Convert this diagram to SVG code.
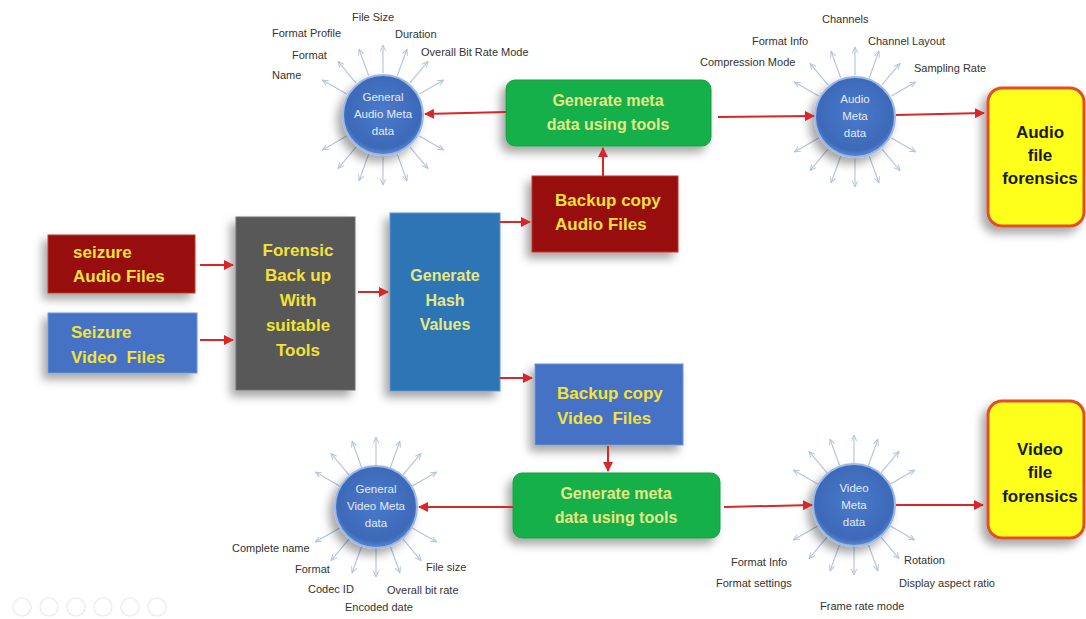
<svg xmlns="http://www.w3.org/2000/svg" xmlns:xlink="http://www.w3.org/1999/xlink" width="1086" height="619" viewBox="0 0 1086 619">
<style>
.lbl{font-family:"Liberation Sans",Arial,sans-serif;font-size:11px;fill:#333}
.bt{font-family:"Liberation Sans",Arial,sans-serif;font-size:17px;font-weight:bold;fill:#f2e23a}
.gt{font-family:"Liberation Sans",Arial,sans-serif;font-size:16px;font-weight:bold;fill:#e6e884}
.yt{font-family:"Liberation Sans",Arial,sans-serif;font-size:17px;font-weight:bold;fill:#1a1a1a}
.ct{font-family:"Liberation Sans",Arial,sans-serif;font-size:11.5px;fill:#e3ebf7}
.ray{stroke:#b3c3db;stroke-width:1.1;fill:none}
.conn{stroke:#d9262a;stroke-width:2;fill:none}
.red{fill:#980808;stroke:#c0392b;stroke-width:1}
.blue{fill:#4472c4;stroke:#6d96d8;stroke-width:1}
.green{fill:#19b04c;stroke:#12a040;stroke-width:1}
.yel{fill:#ffff1a;stroke:#e0502a;stroke-width:3}
.icon{fill:none;stroke:#eeeeee;stroke-width:1.5}
</style>
<defs>
<filter id="sh" x="-30%" y="-30%" width="160%" height="160%">
<feDropShadow dx="-5" dy="6" stdDeviation="5" flood-color="#000" flood-opacity="0.35"/>
</filter>
<radialGradient id="cg" cx="50%" cy="45%" r="55%">
<stop offset="0" stop-color="#4b7acb"/>
<stop offset="0.85" stop-color="#3c69b8"/>
<stop offset="1" stop-color="#5f8ad3"/>
</radialGradient>
<marker id="ah" viewBox="0 0 10 10" refX="9" refY="5" markerWidth="5" markerHeight="5" orient="auto" markerUnits="strokeWidth">
<path d="M0,0 L10,5 L0,10 z" fill="#d9262a"/>
</marker>
<marker id="rh" viewBox="0 0 10 10" refX="9" refY="5" markerWidth="6" markerHeight="6" orient="auto" markerUnits="strokeWidth">
<path d="M0,1 L9,5 L0,9" fill="none" stroke="#b3c3db" stroke-width="1.5"/>
</marker>
<g id="rays">
<line class="ray" x1="42" y1="0" x2="70" y2="0" marker-end="url(#rh)" transform="rotate(-30)"/>
<line class="ray" x1="42" y1="0" x2="70" y2="0" marker-end="url(#rh)" transform="rotate(-50)"/>
<line class="ray" x1="42" y1="0" x2="70" y2="0" marker-end="url(#rh)" transform="rotate(-70)"/>
<line class="ray" x1="42" y1="0" x2="70" y2="0" marker-end="url(#rh)" transform="rotate(-90)"/>
<line class="ray" x1="42" y1="0" x2="70" y2="0" marker-end="url(#rh)" transform="rotate(-110)"/>
<line class="ray" x1="42" y1="0" x2="70" y2="0" marker-end="url(#rh)" transform="rotate(-130)"/>
<line class="ray" x1="42" y1="0" x2="70" y2="0" marker-end="url(#rh)" transform="rotate(-150)"/>
<line class="ray" x1="42" y1="0" x2="70" y2="0" marker-end="url(#rh)" transform="rotate(30)"/>
<line class="ray" x1="42" y1="0" x2="70" y2="0" marker-end="url(#rh)" transform="rotate(50)"/>
<line class="ray" x1="42" y1="0" x2="70" y2="0" marker-end="url(#rh)" transform="rotate(70)"/>
<line class="ray" x1="42" y1="0" x2="70" y2="0" marker-end="url(#rh)" transform="rotate(90)"/>
<line class="ray" x1="42" y1="0" x2="70" y2="0" marker-end="url(#rh)" transform="rotate(110)"/>
<line class="ray" x1="42" y1="0" x2="70" y2="0" marker-end="url(#rh)" transform="rotate(130)"/>
<line class="ray" x1="42" y1="0" x2="70" y2="0" marker-end="url(#rh)" transform="rotate(150)"/>
</g>
</defs>
<rect width="1086" height="619" fill="#ffffff"/>

<g id="seizure-audio">
<rect class="red" x="48" y="235" width="147" height="58" filter="url(#sh)"/>
<text class="bt" x="73" y="258">seizure</text>
<text class="bt" x="73" y="282">Audio Files</text>
</g>
<g id="seizure-video">
<rect class="blue" x="48" y="313" width="149" height="60" filter="url(#sh)"/>
<text class="bt" x="71" y="338">Seizure</text>
<text class="bt" x="71" y="363" xml:space="preserve">Video  Files</text>
</g>
<g id="forensic-backup">
<rect x="236" y="217" width="119" height="173" fill="#595959" stroke="#6e6e6e" filter="url(#sh)"/>
<text class="bt" text-anchor="middle" x="298" y="256" fill="#f5f03a">Forensic</text>
<text class="bt" text-anchor="middle" x="298" y="281">Back up</text>
<text class="bt" text-anchor="middle" x="298" y="306">With</text>
<text class="bt" text-anchor="middle" x="298" y="331">suitable</text>
<text class="bt" text-anchor="middle" x="298" y="356">Tools</text>
</g>
<g id="hash">
<rect x="390" y="213" width="110" height="178" fill="#2e75b6" stroke="#5a95cf" filter="url(#sh)"/>
<text class="gt" text-anchor="middle" x="445" y="281">Generate</text>
<text class="gt" text-anchor="middle" x="445" y="306">Hash</text>
<text class="gt" text-anchor="middle" x="445" y="330">Values</text>
</g>
<g id="backup-audio">
<rect class="red" x="532" y="176" width="146" height="76" filter="url(#sh)"/>
<text class="bt" x="555" y="206">Backup copy</text>
<text class="bt" x="555" y="230">Audio Files</text>
</g>
<g id="backup-video">
<rect class="blue" x="535" y="364" width="148" height="81" filter="url(#sh)"/>
<text class="bt" x="557" y="399">Backup copy</text>
<text class="bt" x="557" y="424" xml:space="preserve">Video  Files</text>
</g>
<g id="meta-tools-audio">
<rect class="green" x="506" y="80" width="205" height="66" rx="9" filter="url(#sh)"/>
<text class="gt" text-anchor="middle" x="608" y="106">Generate meta</text>
<text class="gt" text-anchor="middle" x="608" y="130">data using tools</text>
</g>
<g id="meta-tools-video">
<rect class="green" x="513" y="473" width="207" height="65" rx="9" filter="url(#sh)"/>
<text class="gt" text-anchor="middle" x="616" y="499">Generate meta</text>
<text class="gt" text-anchor="middle" x="616" y="523">data using tools</text>
</g>
<g id="audio-forensics">
<rect class="yel" x="988" y="88" width="96" height="138" rx="14" filter="url(#sh)"/>
<text class="yt" text-anchor="middle" x="1040" y="138">Audio</text>
<text class="yt" text-anchor="middle" x="1040" y="161">file</text>
<text class="yt" text-anchor="middle" x="1040" y="184">forensics</text>
</g>
<g id="video-forensics">
<rect class="yel" x="988" y="401" width="96" height="137" rx="14" filter="url(#sh)"/>
<text class="yt" text-anchor="middle" x="1040" y="455">Video</text>
<text class="yt" text-anchor="middle" x="1040" y="478">file</text>
<text class="yt" text-anchor="middle" x="1040" y="502">forensics</text>
</g>

<g id="general-audio-meta">
<use xlink:href="#rays" transform="translate(383,115)"/>
<circle cx="383" cy="115" r="40" fill="url(#cg)" stroke="#9cb8e4" stroke-width="2" filter="url(#sh)"/>
<text class="ct" text-anchor="middle" x="383" y="101">General</text>
<text class="ct" text-anchor="middle" x="383" y="118">Audio Meta</text>
<text class="ct" text-anchor="middle" x="383" y="135">data</text>
<text class="lbl" x="352" y="21">File Size</text>
<text class="lbl" x="272" y="37">Format Profile</text>
<text class="lbl" x="395" y="38">Duration</text>
<text class="lbl" x="292" y="59">Format</text>
<text class="lbl" x="421" y="56">Overall Bit Rate Mode</text>
<text class="lbl" x="272" y="79">Name</text>
</g>
<g id="audio-meta">
<use xlink:href="#rays" transform="translate(855,117)"/>
<circle cx="855" cy="117" r="40" fill="url(#cg)" stroke="#9cb8e4" stroke-width="2" filter="url(#sh)"/>
<text class="ct" text-anchor="middle" x="855" y="103">Audio</text>
<text class="ct" text-anchor="middle" x="855" y="120">Meta</text>
<text class="ct" text-anchor="middle" x="855" y="137">data</text>
<text class="lbl" x="822" y="23">Channels</text>
<text class="lbl" x="752" y="45">Format Info</text>
<text class="lbl" x="868" y="45">Channel Layout</text>
<text class="lbl" x="700" y="66">Compression Mode</text>
<text class="lbl" x="914" y="72">Sampling Rate</text>
</g>
<g id="general-video-meta">
<use xlink:href="#rays" transform="translate(376,507)"/>
<circle cx="376" cy="507" r="41" fill="url(#cg)" stroke="#9cb8e4" stroke-width="2" filter="url(#sh)"/>
<text class="ct" text-anchor="middle" x="376" y="493">General</text>
<text class="ct" text-anchor="middle" x="376" y="510">Video Meta</text>
<text class="ct" text-anchor="middle" x="376" y="527">data</text>
<text class="lbl" x="232" y="552">Complete name</text>
<text class="lbl" x="295" y="573">Format</text>
<text class="lbl" x="426" y="571">File size</text>
<text class="lbl" x="308" y="593">Codec ID</text>
<text class="lbl" x="387" y="594">Overall bit rate</text>
<text class="lbl" x="345" y="611">Encoded date</text>
</g>
<g id="video-meta">
<use xlink:href="#rays" transform="translate(854,505)"/>
<circle cx="854" cy="505" r="41" fill="url(#cg)" stroke="#9cb8e4" stroke-width="2" filter="url(#sh)"/>
<text class="ct" text-anchor="middle" x="854" y="492">Video</text>
<text class="ct" text-anchor="middle" x="854" y="509">Meta</text>
<text class="ct" text-anchor="middle" x="854" y="526">data</text>
<text class="lbl" x="731" y="566">Format Info</text>
<text class="lbl" x="904" y="564">Rotation</text>
<text class="lbl" x="716" y="587">Format settings</text>
<text class="lbl" x="899" y="587">Display aspect ratio</text>
<text class="lbl" x="820" y="610">Frame rate mode</text>
</g>

<g id="connectors">
<line class="conn" x1="200" y1="265" x2="233" y2="265" marker-end="url(#ah)"/>
<line class="conn" x1="200" y1="340" x2="233" y2="340" marker-end="url(#ah)"/>
<line class="conn" x1="358" y1="292" x2="388" y2="292" marker-end="url(#ah)"/>
<line class="conn" x1="500" y1="222" x2="530" y2="222" marker-end="url(#ah)"/>
<line class="conn" x1="500" y1="378" x2="532" y2="378" marker-end="url(#ah)"/>
<line class="conn" x1="603" y1="176" x2="603" y2="148" marker-end="url(#ah)"/>
<line class="conn" x1="506" y1="112" x2="425" y2="114" marker-end="url(#ah)"/>
<line class="conn" x1="718" y1="117" x2="814" y2="116" marker-end="url(#ah)"/>
<line class="conn" x1="896" y1="115" x2="984" y2="113" marker-end="url(#ah)"/>
<line class="conn" x1="608" y1="446" x2="608" y2="471" marker-end="url(#ah)"/>
<line class="conn" x1="513" y1="507" x2="419" y2="507" marker-end="url(#ah)"/>
<line class="conn" x1="724" y1="507" x2="812" y2="505" marker-end="url(#ah)"/>
<line class="conn" x1="896" y1="505" x2="983" y2="505" marker-end="url(#ah)"/>
</g>

<g id="slide-controls">
<circle class="icon" cx="22" cy="607" r="9"/>
<circle class="icon" cx="49" cy="607" r="9"/>
<circle class="icon" cx="76" cy="607" r="9"/>
<circle class="icon" cx="103" cy="607" r="9"/>
<circle class="icon" cx="130" cy="607" r="9"/>
<circle class="icon" cx="157" cy="607" r="9"/>
</g>
</svg>
